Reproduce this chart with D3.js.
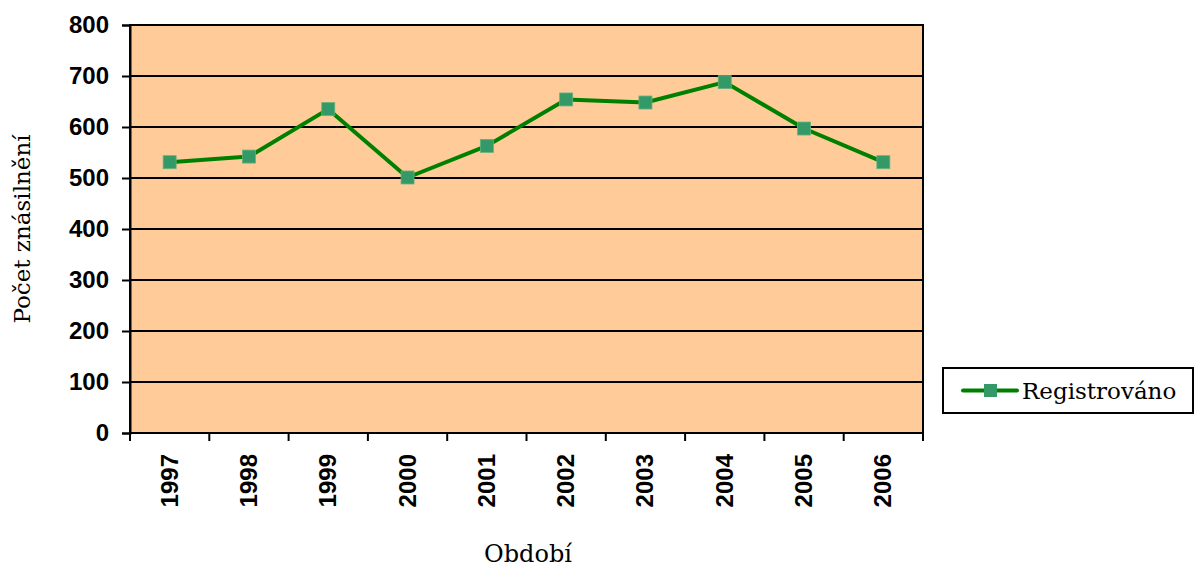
<!DOCTYPE html>
<html>
<head>
<meta charset="utf-8">
<script src="https://cdn.jsdelivr.net/npm/d3@7"></script>
<style>
  body { margin: 0; background: #fff; }
</style>
</head>
<body>
<svg id="chart"></svg>
<script>
// data
const years = ["1997", "1998", "1999", "2000", "2001", "2002", "2003", "2004", "2005", "2006"];
const registered = [531, 542, 635, 501, 563, 654, 648, 688, 597, 531];
const yTicks = [0, 100, 200, 300, 400, 500, 600, 700, 800];
const seriesName = "Registrováno";
const yTitle = "Počet znásilnění";
const xTitle = "Období";

const W = 1201, H = 567;
const margin = {top: 25, right: 278, bottom: 134, left: 130};
const width = W - margin.left - margin.right;
const height = H - margin.top - margin.bottom;
const serif = "DejaVu Serif, serif";
const sans = "Liberation Sans, Arial, sans-serif";

const svg = d3.select("#chart").attr("width", W).attr("height", H);
const g = svg.append("g").attr("transform", `translate(${margin.left},${margin.top})`);

const x = d3.scaleBand().domain(years).range([0, width]);
const y = d3.scaleLinear().domain([0, 800]).range([height, 0]);

// plot background
g.append("rect").attr("width", width).attr("height", height).attr("fill", "#FFCC99");

// gridlines
g.selectAll(".grid").data(yTicks.filter(d => d > 0)).enter().append("line")
  .attr("x1", 0).attr("x2", width)
  .attr("y1", d => y(d)).attr("y2", d => y(d))
  .attr("stroke", "#000").attr("stroke-width", 2);

// plot border
g.append("rect").attr("width", width).attr("height", height)
  .attr("fill", "none").attr("stroke", "#000").attr("stroke-width", 2);

// y axis
const yAxis = g.append("g")
  .call(d3.axisLeft(y).tickValues(yTicks).tickSize(8).tickPadding(13));
yAxis.select(".domain").attr("stroke-width", 2);
yAxis.selectAll("line").attr("stroke-width", 2);
yAxis.selectAll("text")
  .style("font-family", sans)
  .style("font-weight", "bold").style("font-size", "24px").attr("fill", "#000");

// x axis, ticks on band boundaries
const xAxis = g.append("g").attr("transform", `translate(0,${height})`);
xAxis.append("line").attr("x1", 0).attr("x2", width).attr("stroke", "#000").attr("stroke-width", 2);
const bounds = years.map(d => x(d)).concat([width]);
xAxis.selectAll(".xt").data(bounds).enter().append("line")
  .attr("x1", d => d).attr("x2", d => d).attr("y1", 0).attr("y2", 8)
  .attr("stroke", "#000").attr("stroke-width", 2);
xAxis.selectAll(".xl").data(years).enter().append("text")
  .attr("transform", d => `translate(${x(d) + x.bandwidth() / 2 + 8},21) rotate(-90)`)
  .attr("text-anchor", "end")
  .style("font-family", sans)
  .style("font-weight", "bold").style("font-size", "24px")
  .text(d => d);

// line
const line = d3.line()
  .x((d, i) => x(years[i]) + x.bandwidth() / 2)
  .y(d => y(d));
g.append("path").datum(registered)
  .attr("d", line).attr("fill", "none")
  .attr("stroke", "#008000").attr("stroke-width", 4).attr("stroke-linejoin", "round");

g.selectAll(".mk").data(registered).enter().append("rect")
  .attr("x", (d, i) => x(years[i]) + x.bandwidth() / 2 - 6.5)
  .attr("y", d => y(d) - 6.5)
  .attr("width", 13).attr("height", 13)
  .attr("fill", "#339966").attr("stroke", "#66b080").attr("stroke-width", 0.8);

// axis titles
svg.append("text")
  .attr("transform", `translate(30,${margin.top + height / 2}) rotate(-90)`)
  .attr("text-anchor", "middle")
  .style("font-family", serif).style("font-size", "23px")
  .text(yTitle);
svg.append("text")
  .attr("x", 528).attr("y", 562)
  .attr("text-anchor", "middle")
  .style("font-family", serif).style("font-size", "24px")
  .text(xTitle);

// legend
const lg = svg.append("g").attr("transform", "translate(943,368)");
lg.append("rect").attr("width", 250).attr("height", 45)
  .attr("fill", "#fff").attr("stroke", "#000").attr("stroke-width", 2);
lg.append("line").attr("x1", 20).attr("x2", 74).attr("y1", 22.5).attr("y2", 22.5)
  .attr("stroke", "#008000").attr("stroke-width", 4).attr("stroke-linecap", "round");
lg.append("rect").attr("x", 41).attr("y", 16).attr("width", 13).attr("height", 13)
  .attr("fill", "#339966");
lg.append("text").attr("x", 79).attr("y", 30.5)
  .style("font-family", serif).style("font-size", "23px")
  .text(seriesName);
</script>
</body>
</html>
